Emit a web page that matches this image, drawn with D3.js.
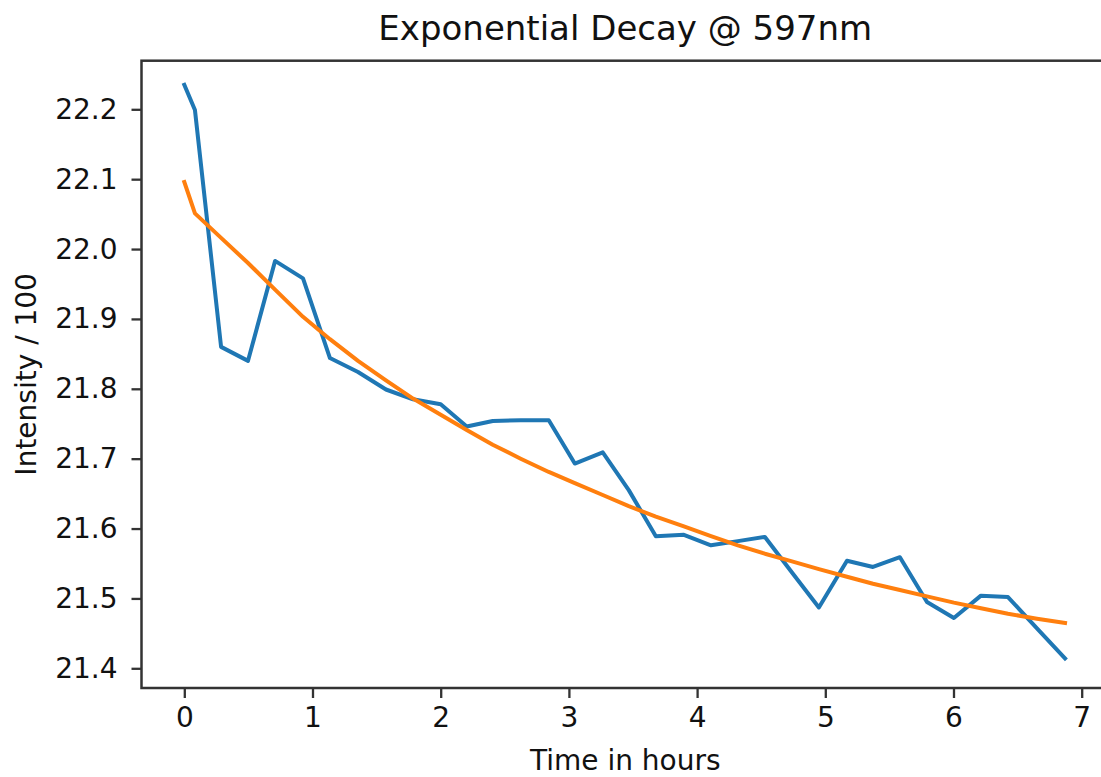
<!DOCTYPE html>
<html>
<head>
<meta charset="utf-8">
<script src="https://cdn.jsdelivr.net/npm/d3@7"></script>
<style>
  body { margin: 0; background: #fff; }
  text { font-family: "DejaVu Sans", sans-serif; fill: #111; }
</style>
</head>
<body>
<div id="decay-chart"></div>
<script>
// time of each reading (hours)
const hours = [0, 0.083, 0.287, 0.497, 0.708, 0.926, 1.136, 1.355, 1.573, 1.784,
  2.0, 2.203, 2.406, 2.624, 2.843, 3.046, 3.264, 3.467, 3.678, 3.897,
  4.108, 4.318, 4.529, 4.740, 4.950, 5.169, 5.372, 5.582, 5.793, 6.003,
  6.214, 6.425, 6.651, 6.870];

// measured intensity / 100
const measured = [22.235, 22.199, 21.860, 21.840, 21.983, 21.958, 21.844, 21.824, 21.799, 21.785,
  21.778, 21.746, 21.754, 21.755, 21.755, 21.693, 21.709, 21.655, 21.589, 21.591,
  21.576, 21.582, 21.588, 21.537, 21.487, 21.554, 21.545, 21.559, 21.495, 21.472,
  21.504, 21.502, 21.457, 21.414];

// fitted exponential decay
const fitted = [22.096, 22.051, 22.016, 21.980, 21.942, 21.903, 21.871, 21.840, 21.812, 21.786,
  21.763, 21.741, 21.720, 21.700, 21.681, 21.665, 21.648, 21.632, 21.617, 21.603,
  21.589, 21.576, 21.564, 21.553, 21.542, 21.531, 21.521, 21.512, 21.503, 21.494,
  21.486, 21.478, 21.471, 21.465];

const xTicks = [0, 1, 2, 3, 4, 5, 6, 7];
const yTicks = [21.4, 21.5, 21.6, 21.7, 21.8, 21.9, 22.0, 22.1, 22.2];

// plot frame in pixels
const frame = {left: 141.5, top: 60.7, right: 1109, bottom: 688};

const svg = d3.select("#decay-chart")
  .append("svg")
  .attr("width", 1101)
  .attr("height", 777);

const xScale = d3.scaleLinear().domain([0, 7]).range([184.3, 1081.7]);
const yScale = d3.scaleLinear().domain([21.4, 22.2]).range([668.3, 109.3]);

// the two curves
const line = d3.line()
  .x((d, i) => xScale(hours[i]))
  .y(d => yScale(d));

svg.append("path")
  .datum(measured)
  .attr("d", line)
  .attr("fill", "none")
  .attr("stroke", "#1f77b4")
  .attr("stroke-width", 4)
  .attr("stroke-linejoin", "round")
  .attr("stroke-linecap", "square");

svg.append("path")
  .datum(fitted)
  .attr("d", line)
  .attr("fill", "none")
  .attr("stroke", "#ff7f0e")
  .attr("stroke-width", 4)
  .attr("stroke-linejoin", "round")
  .attr("stroke-linecap", "square");

// axes
const xAxis = d3.axisBottom(xScale)
  .tickValues(xTicks)
  .tickFormat(d3.format("d"))
  .tickSizeInner(10)
  .tickSizeOuter(0)
  .tickPadding(9);

const yAxis = d3.axisLeft(yScale)
  .tickValues(yTicks)
  .tickFormat(d3.format(".1f"))
  .tickSizeInner(10)
  .tickSizeOuter(0)
  .tickPadding(14);

const gx = svg.append("g")
  .attr("transform", `translate(0,${frame.bottom})`)
  .call(xAxis);

const gy = svg.append("g")
  .attr("transform", `translate(${frame.left},0)`)
  .call(yAxis);

[gx, gy].forEach(g => {
  g.select(".domain").remove();
  g.selectAll(".tick line").attr("stroke", "#333").attr("stroke-width", 2.3);
  g.selectAll(".tick text")
    .attr("font-family", "DejaVu Sans, sans-serif")
    .attr("font-size", 28)
    .attr("fill", "#111");
});

// frame (right edge falls off the canvas like the original)
svg.append("rect")
  .attr("x", frame.left)
  .attr("y", frame.top)
  .attr("width", frame.right - frame.left)
  .attr("height", frame.bottom - frame.top)
  .attr("fill", "none")
  .attr("stroke", "#333")
  .attr("stroke-width", 2.5);

// labels
svg.append("text")
  .attr("x", (frame.left + frame.right) / 2)
  .attr("y", 40)
  .attr("text-anchor", "middle")
  .attr("font-size", 34)
  .text("Exponential Decay @ 597nm");

svg.append("text")
  .attr("x", (frame.left + frame.right) / 2)
  .attr("y", 770)
  .attr("text-anchor", "middle")
  .attr("font-size", 28)
  .text("Time in hours");

svg.append("text")
  .attr("transform", "rotate(-90)")
  .attr("x", -(frame.top + frame.bottom) / 2)
  .attr("y", 36)
  .attr("text-anchor", "middle")
  .attr("font-size", 28)
  .text("Intensity / 100");
</script>
</body>
</html>
